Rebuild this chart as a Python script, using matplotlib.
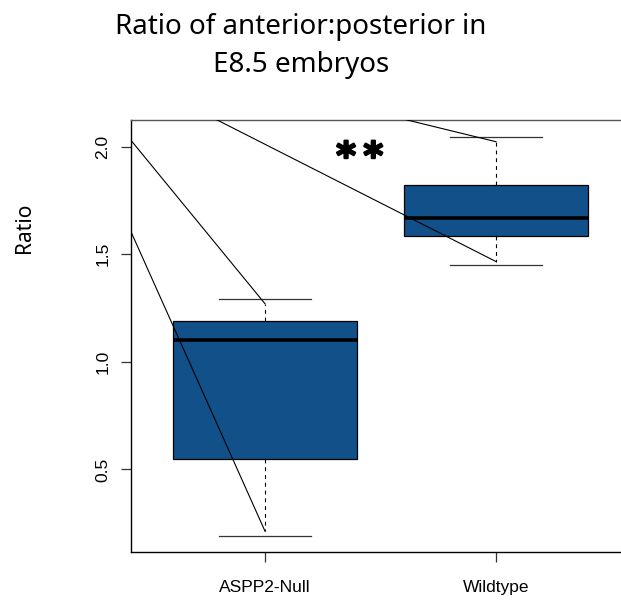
import matplotlib
matplotlib.use("Agg")
import matplotlib.pyplot as plt
import matplotlib.patheffects as pe
from matplotlib.patches import Rectangle

# Box statistics per genotype
groups = ["ASPP2-Null", "Wildtype"]
cap_low = [0.19, 1.448]
whisker_low = [0.213, 1.466]
q1 = [0.548, 1.587]
median = [1.10, 1.67]
q3 = [1.19, 1.824]
whisker_high = [1.27, 2.023]
cap_high = [1.29, 2.046]

# Common point the guide lines radiate from
ray_origin = (0.03, 2.54)

y_ticks = [0.5, 1.0, 1.5, 2.0]
y_tick_labels = ["0.5", "1.0", "1.5", "2.0"]

title_lines = ["Ratio of anterior:posterior in", "E8.5 embryos"]
significance = "**"

box_color = "#12508a"
box_width = 0.8
cap_width = 0.4

fig = plt.figure(figsize=(6.21, 6.01), dpi=100)
ax = fig.add_axes([131 / 621, 49 / 601, (630 - 131) / 621, (552 - 120) / 601])

positions = list(range(1, len(groups) + 1))
for x, lo_c, lo_w, b1, m, b3, hi_w, hi_c in zip(
        positions, cap_low, whisker_low, q1, median, q3, whisker_high, cap_high):
    ax.add_patch(Rectangle((x - box_width / 2, b1), box_width, b3 - b1,
                           facecolor=box_color, edgecolor="black", lw=0.9, zorder=2))
    ax.plot([x - box_width / 2, x + box_width / 2], [m, m], color="black",
            lw=2.6, solid_capstyle="butt", zorder=3)
    ax.plot([x, x], [b3, hi_w], color="black", lw=0.8, ls=(0, (3.5, 3.5)), zorder=2)
    ax.plot([x, x], [b1, lo_w], color="black", lw=0.8, ls=(0, (3.5, 3.5)), zorder=2)
    ax.plot([x - cap_width / 2, x + cap_width / 2], [hi_c, hi_c], color="#333333", lw=0.9, zorder=2)
    ax.plot([x - cap_width / 2, x + cap_width / 2], [lo_c, lo_c], color="#333333", lw=0.9, zorder=2)
    for yend in (lo_w, hi_w):
        ax.plot([ray_origin[0], x], [ray_origin[1], yend], color="black", lw=0.8, zorder=4)

ax.set_xlim(0.42, 2.58)
ax.set_ylim(0.116, 2.124)

ax.set_xticks(positions)
ax.set_xticklabels(groups, fontsize=12.5, family="Liberation Sans")
ax.set_yticks(y_ticks)
ax.set_yticklabels(y_tick_labels, fontsize=12.5, family="Liberation Sans",
                   rotation=90, va="center")
ax.tick_params(axis="both", length=7, width=0.9, color="#333333")
ax.tick_params(axis="x", pad=13)
ax.tick_params(axis="y", pad=8)
for side in ("left", "bottom"):
    ax.spines[side].set_linewidth(1.0)
    ax.spines[side].set_color("black")
for side in ("top", "right"):
    ax.spines[side].set_linewidth(1.0)
    ax.spines[side].set_color("#555555")

# Significance stars between the two boxes
for dx, ch in zip((-0.059, 0.059), significance):
    ax.text(1.41 + dx, 1.945, ch, fontsize=27, fontweight="bold",
            ha="center", va="center", family="DejaVu Sans",
            path_effects=[pe.withStroke(linewidth=1.6, foreground="black")])

for line, base_px in zip(title_lines, (34, 72)):
    fig.text(301 / 621, 1 - base_px / 601, line, ha="center", va="baseline",
             fontsize=20, family="Noto Sans")
fig.text(24 / 621, 1 - 228 / 601, "Ratio", rotation=90, ha="center", va="center",
         fontsize=15, family="Noto Sans")

fig.savefig("out.png", dpi=100)
